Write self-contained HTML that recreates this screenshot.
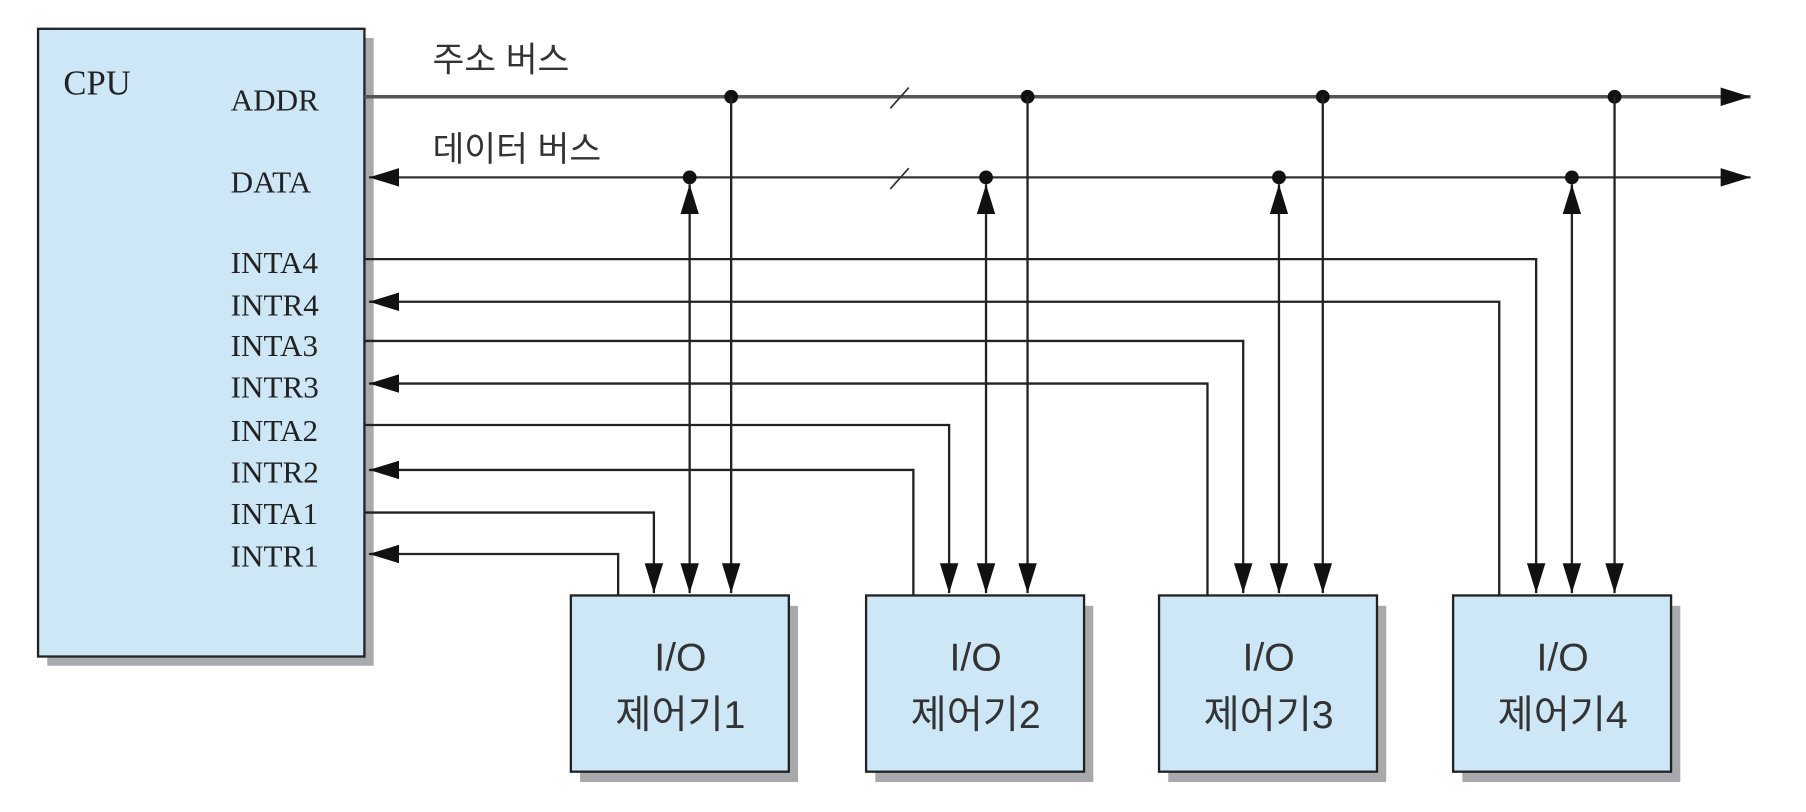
<!DOCTYPE html>
<html><head><meta charset="utf-8"><style>
html,body{margin:0;padding:0;background:#fff;width:1806px;height:812px;overflow:hidden}
svg{display:block}
.s{font-family:"Liberation Serif",serif;font-size:27px;fill:#222}
.k{font-family:"Liberation Sans","Noto Sans CJK KR",sans-serif;fill:#333}
</style></head><body>
<svg width="1806" height="812" viewBox="0 0 1566 705" preserveAspectRatio="none">
<defs>
<marker id="a" viewBox="0 0 10 10" refX="10" refY="5" markerWidth="26" markerHeight="16" markerUnits="userSpaceOnUse" orient="auto-start-reverse" preserveAspectRatio="none"><path d="M0,0L10,5L0,10z" fill="#111"/></marker>
</defs>
<rect x="41" y="33" width="283" height="545" fill="#a7a9ac"/>
<rect x="33" y="25" width="283" height="545" fill="#cde7f7" stroke="#222" stroke-width="2"/>
<text x="55" y="82" class="s" style="font-size:30px">CPU</text>
<g class="s">
<text x="200" y="96">ADDR</text>
<text x="200" y="167">DATA</text>
<text x="200" y="237">INTA4</text>
<text x="200" y="274">INTR4</text>
<text x="200" y="309">INTA3</text>
<text x="200" y="345">INTR3</text>
<text x="200" y="383">INTA2</text>
<text x="200" y="419">INTR2</text>
<text x="200" y="455">INTA1</text>
<text x="200" y="492">INTR1</text>
</g>
<text x="375" y="62" class="k" font-size="30">주소 버스</text>
<text x="375" y="140" class="k" font-size="30">데이터 버스</text>
<line x1="316" y1="84" x2="1518" y2="84" stroke="#555" stroke-width="3" marker-end="url(#a)"/>
<line x1="320" y1="154" x2="1518" y2="154" stroke="#333" stroke-width="2" marker-start="url(#a)" marker-end="url(#a)"/>
<line x1="772" y1="94" x2="788" y2="76" stroke="#333" stroke-width="1.5"/>
<line x1="772" y1="164" x2="788" y2="146" stroke="#333" stroke-width="1.5"/>
<g fill="#111">
<circle cx="634" cy="84" r="6"/><circle cx="891" cy="84" r="6"/><circle cx="1147" cy="84" r="6"/><circle cx="1400" cy="84" r="6"/>
<circle cx="598" cy="154" r="6"/><circle cx="855" cy="154" r="6"/><circle cx="1109" cy="154" r="6"/><circle cx="1363" cy="154" r="6"/>
</g>
<g stroke="#222" stroke-width="2" fill="none">
<line x1="634" y1="84" x2="634" y2="515" marker-end="url(#a)"/>
<line x1="891" y1="84" x2="891" y2="515" marker-end="url(#a)"/>
<line x1="1147" y1="84" x2="1147" y2="515" marker-end="url(#a)"/>
<line x1="1400" y1="84" x2="1400" y2="515" marker-end="url(#a)"/>
<line x1="598" y1="160" x2="598" y2="515" marker-start="url(#a)" marker-end="url(#a)"/>
<line x1="855" y1="160" x2="855" y2="515" marker-start="url(#a)" marker-end="url(#a)"/>
<line x1="1109" y1="160" x2="1109" y2="515" marker-start="url(#a)" marker-end="url(#a)"/>
<line x1="1363" y1="160" x2="1363" y2="515" marker-start="url(#a)" marker-end="url(#a)"/>
<polyline points="316,445 567,445 567,515" marker-end="url(#a)"/>
<polyline points="316,369 823,369 823,515" marker-end="url(#a)"/>
<polyline points="316,296 1078,296 1078,515" marker-end="url(#a)"/>
<polyline points="316,225 1332,225 1332,515" marker-end="url(#a)"/>
<polyline points="536,517 536,481 320,481" marker-end="url(#a)"/>
<polyline points="792,517 792,408 320,408" marker-end="url(#a)"/>
<polyline points="1047,517 1047,333 320,333" marker-end="url(#a)"/>
<polyline points="1300,517 1300,262 320,262" marker-end="url(#a)"/>
</g>
<g>
<rect x="503" y="526" width="189" height="153" fill="#a7a9ac"/>
<rect x="495" y="517" width="189" height="153" fill="#cde7f7" stroke="#222" stroke-width="2"/>
<rect x="759" y="526" width="189" height="153" fill="#a7a9ac"/>
<rect x="751" y="517" width="189" height="153" fill="#cde7f7" stroke="#222" stroke-width="2"/>
<rect x="1013" y="526" width="189" height="153" fill="#a7a9ac"/>
<rect x="1005" y="517" width="189" height="153" fill="#cde7f7" stroke="#222" stroke-width="2"/>
<rect x="1268" y="526" width="189" height="153" fill="#a7a9ac"/>
<rect x="1260" y="517" width="189" height="153" fill="#cde7f7" stroke="#222" stroke-width="2"/>
</g>
<g class="k" font-size="34" text-anchor="middle">
<text x="590" y="582">I/O</text><text x="590" y="632">제어기1</text>
<text x="846" y="582">I/O</text><text x="846" y="632">제어기2</text>
<text x="1100" y="582">I/O</text><text x="1100" y="632">제어기3</text>
<text x="1355" y="582">I/O</text><text x="1355" y="632">제어기4</text>
</g>
</svg>
</body></html>
